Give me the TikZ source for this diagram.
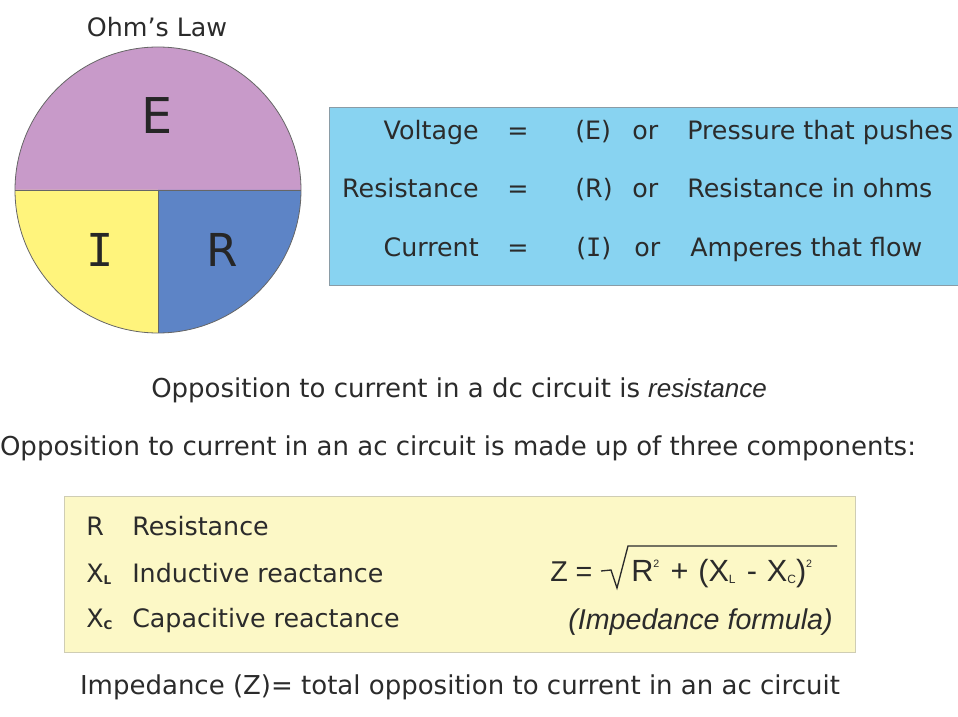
\documentclass[tikz,border=0pt]{standalone}
\usepackage{fontspec}
\setmainfont{DejaVu Sans}
\newfontfamily\formulafont{Liberation Sans}
\newfontfamily\barIfont{DejaVu Sans Mono}
\definecolor{inkgray}{HTML}{2B2B2B}
\definecolor{ohmpurple}{HTML}{C89AC9}
\definecolor{ohmyellow}{HTML}{FFF47C}
\definecolor{ohmblue}{HTML}{5D84C6}
\definecolor{skybox}{HTML}{88D3F1}
\definecolor{skyedge}{HTML}{8A9CA6}
\definecolor{paleyellow}{HTML}{FCF8C6}
\definecolor{paleedge}{HTML}{CFCDB4}
\newcommand\lowsub[1]{\raisebox{-2pt}{\fontsize{9}{9}\selectfont #1}}
\newcommand\highsup[1]{\raisebox{10pt}{\fontsize{8}{8}\selectfont #1}}

\begin{document}
\begin{tikzpicture}[x=0.75pt,y=-0.75pt,
  txt/.style={inner sep=0pt, text=inkgray, font=\fontsize{19}{23}\selectfont},
  wide/.style={txt, font=\fontsize{19.5}{23}\selectfont},
  frm/.style={txt, font=\fontsize{21.5}{25}\formulafont},
  letter/.style={inner sep=0pt, text=black!85, font=\fontsize{34}{40}\selectfont},
  sector/.style={draw=black!60, line width=0.6pt}
]
  \useasboundingbox (0,0) rectangle (958,717);
  \fill[white] (0,0) rectangle (958,717);

  % Ohm's law circle
  \node[txt, anchor=base] (title) at (157,37) {Ohm’s Law};
  \fill[ohmpurple] (15,190) arc[start angle=180, end angle=360, radius=143] -- cycle;
  \fill[ohmyellow] (15,190) arc[start angle=180, end angle=90, radius=143] -- (158,190) -- cycle;
  \fill[ohmblue] (158,333) arc[start angle=90, end angle=0, radius=143] -- (158,190) -- cycle;
  \draw[sector] (158,190) circle[radius=143];
  \draw[sector] (15,190) -- (301,190) (158,190) -- (158,333);
  \node[letter, anchor=base, font=\fontsize{37}{42}\selectfont] (le) at (157,133) {E};
  \node[letter, anchor=base, font=\fontsize{34}{40}\barIfont] (li) at (100,267) {I};
  \node[letter, anchor=base] (lr) at (222,267) {R};

  % definitions box
  \fill[skybox] (329,107) rectangle (958,285);
  \draw[skyedge] (958,107) -- (329,107) -- (329,285) -- (958,285);
  \node[txt, anchor=base east] (volt) at (479,140) {Voltage};
  \node[txt, anchor=base] (eqa) at (518,140) {=};
  \node[txt, anchor=base west] (sym1) at (575,140) {(E)};
  \node[txt, anchor=base west] (ora) at (632,140) {or};
  \node[txt, anchor=base west] (mean1) at (687,140) {Pressure that pushes};
  \node[txt, anchor=base east] (resi) at (479,198) {Resistance};
  \node[txt, anchor=base] (eqb) at (518,198) {=};
  \node[txt, anchor=base west] (sym2) at (575,198) {(R)};
  \node[txt, anchor=base west] (orb) at (632,198) {or};
  \node[txt, anchor=base west] (mean2) at (687,198) {Resistance in ohms};
  \node[txt, anchor=base east] (curr) at (479,257) {Current};
  \node[txt, anchor=base] (eqc) at (518,257) {=};
  \node[txt, anchor=base west] (sym3) at (576,257) {({\barIfont I})};
  \node[txt, anchor=base west] (orc) at (634,257) {or};
  \node[txt, anchor=base west] (mean3) at (690,257) {Amperes that flow};

  % dc / ac statements
  \node[wide, anchor=base] (dc) at (459,397) {Opposition to current in a dc circuit is {\formulafont\itshape resistance}};
  \node[wide, anchor=base] (ac) at (458,455) {Opposition to current in an ac circuit is made up of three components:};

  % components box
  \fill[paleyellow] (64,496) rectangle (855,652);
  \draw[paleedge] (64,496) rectangle (855,652);
  \node[txt, anchor=base west] (cr) at (86,535) {R};
  \node[txt, anchor=base west] (crt) at (132,535) {Resistance};
  \node[txt, anchor=base west] (cl) at (86,582) {X\lowsub{\textbf{L}}};
  \node[txt, anchor=base west] (clt) at (132,582) {Inductive reactance};
  \node[txt, anchor=base west] (cc) at (86,627) {X\lowsub{\textbf{C}}};
  \node[txt, anchor=base west] (cct) at (132,627) {Capacitive reactance};

  % impedance formula
  \node[frm, anchor=base west] (zeq) at (550,581) {Z =};
  \draw[inkgray, line width=1pt, line join=miter] (601,571) -- (611,570) -- (617,588) -- (628,546) -- (837,546);
  \node[frm, anchor=base west, font=\fontsize{23}{27}\formulafont] (rad) at (631,581)
    {R\highsup{2}\hspace{2pt} + \hspace{1pt}(X\lowsub{L}\hspace{2pt} - \hspace{1pt}X\lowsub{C})\highsup{2}};
  \node[frm, anchor=base east, font=\fontsize{21.5}{25}\formulafont\itshape] (zname) at (833,629) {(Impedance formula)};

  \node[wide, anchor=base] (imp) at (460,694) {Impedance (Z)= total opposition to current in an ac circuit};
\end{tikzpicture}
\end{document}
